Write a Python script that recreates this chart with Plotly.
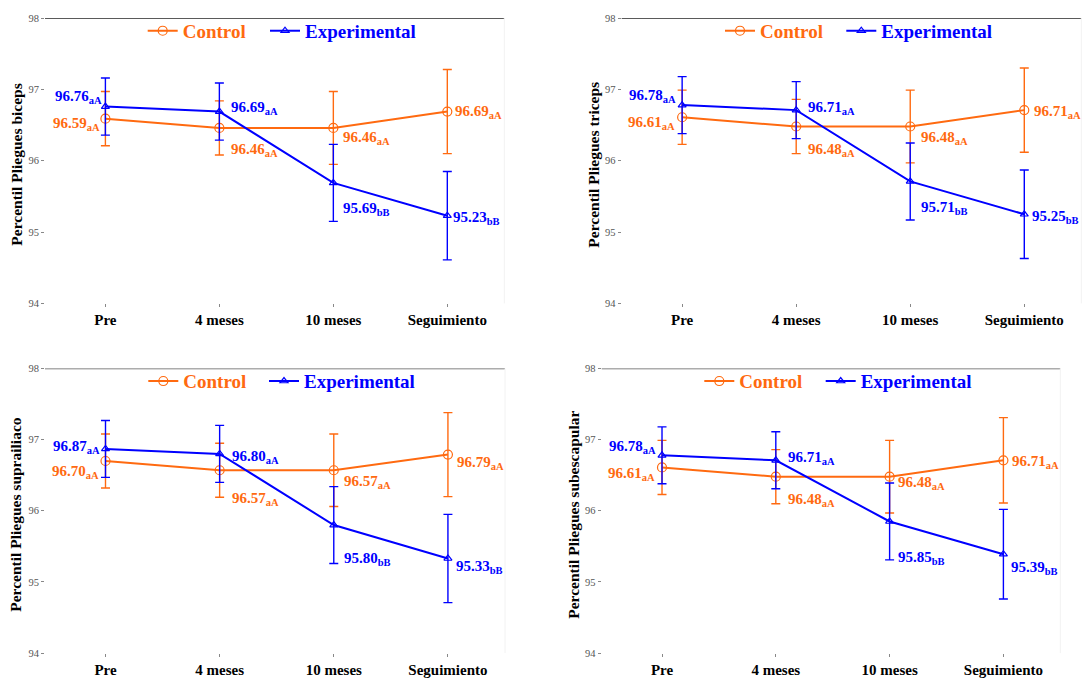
import plotly.graph_objects as go

# ---------------- data ----------------
categories = ["Pre", "4 meses", "10 meses", "Seguimiento"]

ctrl_biceps = [96.59, 96.46, 96.46, 96.69]
exp_biceps = [96.76, 96.69, 95.69, 95.23]
ctrl_triceps = [96.61, 96.48, 96.48, 96.71]
exp_triceps = [96.78, 96.71, 95.71, 95.25]
ctrl_supra = [96.70, 96.57, 96.57, 96.79]
exp_supra = [96.87, 96.80, 95.80, 95.33]
ctrl_subes = [96.61, 96.48, 96.48, 96.71]
exp_subes = [96.78, 96.71, 95.85, 95.39]

ctrl_err_biceps = [0.38, 0.38, 0.51, 0.59]
exp_err_biceps = [0.40, 0.40, 0.54, 0.62]
ctrl_err_triceps = [0.38, 0.38, 0.51, 0.59]
exp_err_triceps = [0.40, 0.40, 0.54, 0.62]
ctrl_err_supra = [0.38, 0.38, 0.51, 0.59]
exp_err_supra = [0.40, 0.40, 0.54, 0.62]
ctrl_err_subes = [0.38, 0.38, 0.51, 0.60]
exp_err_subes = [0.40, 0.40, 0.54, 0.63]

ctrl_letters = ["aA", "aA", "aA", "aA"]
exp_letters = ["aA", "aA", "bB", "bB"]

y_titles = ["Percentil Pliegues biceps", "Percentil Pliegues triceps",
            "Percentil Pliegues suprailiaco", "Percentil Pliegues subescapular"]
y_ticks = [94, 95, 96, 97, 98]

# ---------------- style ----------------
SERIF = "Liberation Serif"
ORANGE = "#FF6A10"
BLUE = "#0000FF"
W, H = 1086, 686

panels = [
    dict(ctrl=ctrl_biceps, exp=exp_biceps, ce=ctrl_err_biceps, ee=exp_err_biceps,
         xd=(45, 504.3), yd=(13.3, 303.3), title=y_titles[0], tx=17,
         leg=((147.7, 32.3), (270, 32.3)),
         cpos=[("right", -3.5, -5), ("left", 9.6, -22), ("left", 7.5, -10), ("left", 6, 0)],
         epos=[("right", -1.5, 10), ("left", 9.6, 4), ("left", 8, -26), ("left", 4, -2)]),
    dict(ctrl=ctrl_triceps, exp=exp_triceps, ce=ctrl_err_triceps, ee=exp_err_triceps,
         xd=(621.7, 1081.3), yd=(13.3, 303.3), title=y_titles[1], tx=594,
         leg=((725, 32.3), (846.3, 32.3)),
         cpos=[("right", -5, -6), ("left", 10, -23), ("left", 8.7, -11), ("left", 7.6, -2)],
         epos=[("right", -4.5, 9), ("left", 10, 2), ("left", 9, -27), ("left", 6, -3)]),
    dict(ctrl=ctrl_supra, exp=exp_supra, ce=ctrl_err_supra, ee=exp_err_supra,
         xd=(45, 505), yd=(369.4, 658.7), title=y_titles[2], tx=16,
         leg=((148.3, 388.3), (269, 388.3)),
         cpos=[("right", -4.5, -11), ("left", 10.6, -29), ("left", 8, -12), ("left", 7, -8)],
         epos=[("right", -3.4, 2), ("left", 10.6, -3), ("left", 8, -33.5), ("left", 5.7, -9)]),
    dict(ctrl=ctrl_subes, exp=exp_subes, ce=ctrl_err_subes, ee=exp_err_subes,
         xd=(601.7, 1060.3), yd=(369.4, 658.7), title=y_titles[3], tx=574,
         leg=((704.3, 388.3), (825.7, 388.3)),
         cpos=[("right", -5, -6.5), ("left", 10, -23), ("left", 6.5, -6), ("left", 6.4, -2)],
         epos=[("right", -4, 8), ("left", 10, 2), ("left", 6.5, -37), ("left", 6, -14)]),
]

fig = go.Figure()
annotations = []
shapes = []
layout_axes = {}
xi = list(range(len(categories)))
leg_count = 0

for k, p in enumerate(panels):
    n = k + 1
    xa = "x" if n == 1 else f"x{n}"
    ya = "y" if n == 1 else f"y{n}"

    for j, (name, vals, errs, color, sym) in enumerate([
        ("Control", p["ctrl"], p["ce"], ORANGE, "circle-open"),
        ("Experimental", p["exp"], p["ee"], BLUE, "triangle-up-open"),
    ]):
        leg_count += 1
        leg = "legend" if leg_count == 1 else f"legend{leg_count}"
        fig.add_trace(go.Scatter(
            x=xi, y=vals, mode="lines+markers",
            name=f'<span style="color:{color}">{name}</span>',
            line=dict(color=color, width=2),
            marker=dict(symbol=sym, size=9 if sym == "circle-open" else 7,
                        color=color, line=dict(width=1.2, color=color)),
            error_y=dict(type="data", array=errs, visible=True, color=color,
                         thickness=1.4, width=4.5),
            xaxis=xa, yaxis=ya, legend=leg, hoverinfo="skip",
        ))
        lx, ly = p["leg"][j]
        layout_axes[leg] = dict(
            x=(lx - 5) / W, y=1 - (ly - 6) / H, xanchor="left", yanchor="middle",
            orientation="h", bgcolor="rgba(0,0,0,0)", borderwidth=0, tracegroupgap=0,
            font=dict(family=SERIF, size=19, weight="bold"),
            itemclick=False, itemdoubleclick=False,
        )

    # value labels
    for vals, letters, pos, color in [
        (p["ctrl"], ctrl_letters, p["cpos"], ORANGE),
        (p["exp"], exp_letters, p["epos"], BLUE),
    ]:
        for i, v in enumerate(vals):
            anchor, xs, ys = pos[i]
            annotations.append(dict(
                x=i, y=v, xref=xa, yref=ya,
                text=f"<b>{v:.2f}<sub>{letters[i]}</sub></b>",
                showarrow=False, xanchor=anchor, yanchor="middle",
                xshift=xs, yshift=ys,
                font=dict(family=SERIF, size=15, color=color),
            ))

    # y title
    annotations.append(dict(
        x=p["tx"] / W, y=1 - ((p["yd"][0] + p["yd"][1]) / 2 + 4) / H,
        xref="paper", yref="paper", text=f"<b>{p['title']}</b>",
        textangle=-90, showarrow=False, xanchor="center", yanchor="middle",
        font=dict(family=SERIF, size=15.5, color="black"),
    ))

    # top line and faint right border
    shapes.append(dict(type="line", xref=f"{xa} domain", yref=ya, x0=0, x1=1,
                       y0=98, y1=98, line=dict(color="#5a5a5a", width=1.6)))
    shapes.append(dict(type="line", xref=f"{xa} domain", yref=f"{ya} domain",
                       x0=1, x1=1, y0=0, y1=1, line=dict(color="#f2f2f2", width=1)))

    xkey = "xaxis" if n == 1 else f"xaxis{n}"
    ykey = "yaxis" if n == 1 else f"yaxis{n}"
    layout_axes[xkey] = dict(
        domain=[p["xd"][0] / W, p["xd"][1] / W], anchor=ya,
        range=[-0.53, 3.5], tickmode="array", tickvals=xi, ticktext=categories,
        showgrid=False, zeroline=False, showline=False,
        ticks="outside", ticklen=3, tickcolor="#888", tickwidth=1,
        tickfont=dict(family=SERIF, size=15, color="black", weight="bold"),
        fixedrange=True,
    )
    layout_axes[ykey] = dict(
        domain=[1 - p["yd"][1] / H, 1 - p["yd"][0] / H], anchor=xa,
        range=[94, 98], tickmode="array", tickvals=y_ticks,
        showgrid=False, zeroline=False, showline=False,
        ticks="outside", ticklen=3, tickcolor="#888", tickwidth=1,
        tickfont=dict(family=SERIF, size=10.5, color="#555"),
        fixedrange=True,
    )

fig.update_layout(
    width=W, height=H, margin=dict(l=0, r=0, t=0, b=0),
    paper_bgcolor="white", plot_bgcolor="white",
    showlegend=True, annotations=annotations, shapes=shapes,
    **layout_axes,
)

fig.write_html("out.html")
